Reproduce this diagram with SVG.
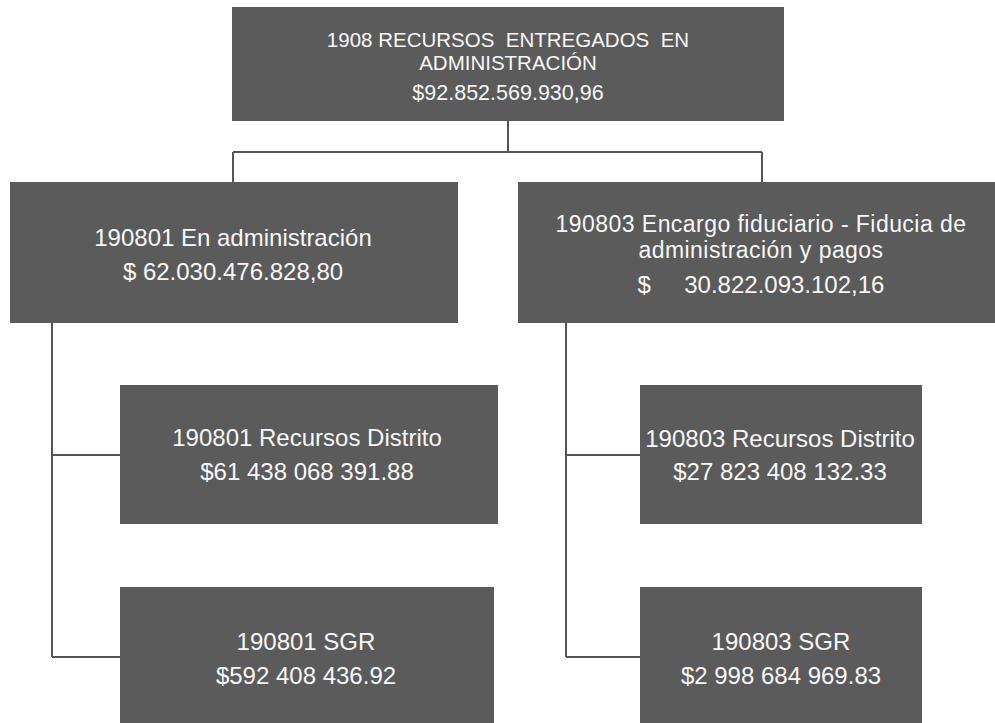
<svg xmlns="http://www.w3.org/2000/svg" width="995" height="723" viewBox="0 0 995 723">
<style>
.box{fill:#5b5b5b}
.t{fill:#f8f8f8;font-family:"Liberation Sans",Arial,sans-serif;text-anchor:middle;white-space:pre}
.s20{font-size:20.5px}
.s24{font-size:24px}
.c{fill:none;stroke:#555555;stroke-width:2}
</style>
<rect width="995" height="723" fill="#ffffff"/>
<g id="connectors">
<path class="c" d="M508 121V152M233 152H762M233 152V183M762 152V183"/>
<path class="c" d="M52 323V657M52 455H120M52 657H120"/>
<path class="c" d="M566 323V657M566 455H640M566 657H640"/>
</g>
<g id="n1908">
<rect class="box" x="232" y="7" width="552" height="114"/>
<text class="t s20" x="508" y="47" xml:space="preserve">1908 RECURSOS  ENTREGADOS  EN</text>
<text class="t s20" x="508" y="70">ADMINISTRACIÓN</text>
<text class="t" x="508" y="100" style="font-size:21.5px">$92.852.569.930,96</text>
</g>
<g id="n190801">
<rect class="box" x="10" y="182" width="448" height="141"/>
<text class="t s24" x="233" y="246">190801 En administración</text>
<text class="t s24" x="233" y="280">$ 62.030.476.828,80</text>
</g>
<g id="n190803">
<rect class="box" x="518" y="182" width="477" height="141"/>
<text class="t" x="761" y="232" style="font-size:23px;letter-spacing:0.45px">190803 Encargo fiduciario - Fiducia de</text>
<text class="t" x="761" y="258" style="font-size:23px;letter-spacing:0.45px">administración y pagos</text>
<text class="t s24" x="761" y="293" xml:space="preserve">$     30.822.093.102,16</text>
</g>
<g id="n190801rd">
<rect class="box" x="120" y="385" width="378" height="139"/>
<text class="t s24" x="307" y="446">190801 Recursos Distrito</text>
<text class="t s24" x="307" y="480">$61 438 068 391.88</text>
</g>
<g id="n190801sgr">
<rect class="box" x="120" y="587" width="374" height="136"/>
<text class="t s24" x="306" y="650">190801 SGR</text>
<text class="t s24" x="306" y="684">$592 408 436.92</text>
</g>
<g id="n190803rd">
<rect class="box" x="640" y="385" width="282" height="139"/>
<text class="t s24" x="780" y="447">190803 Recursos Distrito</text>
<text class="t s24" x="780" y="480">$27 823 408 132.33</text>
</g>
<g id="n190803sgr">
<rect class="box" x="640" y="587" width="282" height="136"/>
<text class="t s24" x="781" y="650">190803 SGR</text>
<text class="t s24" x="781" y="684">$2 998 684 969.83</text>
</g>
</svg>
